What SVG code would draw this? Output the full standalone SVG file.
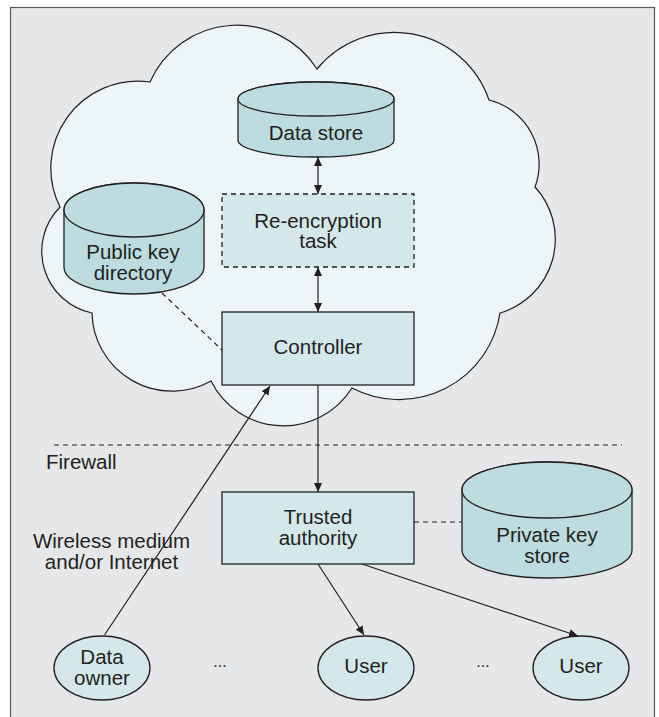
<svg xmlns="http://www.w3.org/2000/svg" width="659" height="717" viewBox="0 0 659 717">
  <style>
    .lbl { font-family: "Liberation Sans", Arial, sans-serif; font-size: 20.5px; fill: #231f20; text-anchor: middle; }
    .free { font-family: "Liberation Sans", Arial, sans-serif; font-size: 20.5px; fill: #231f20; }
    .cyl { fill: #bcdcdf; stroke: #231f20; stroke-width: 1.3; }
    .box { fill: #d4e7eb; stroke: #231f20; stroke-width: 1.3; }
    .dashbox { fill: #d4e7eb; stroke: #231f20; stroke-width: 1.3; stroke-dasharray: 5 4; }
    .edge { fill: none; stroke: #231f20; stroke-width: 1.2; }
    .dash { fill: none; stroke: #231f20; stroke-width: 1.2; stroke-dasharray: 5 4; }
  </style>
  <defs>
    <marker id="arrow" viewBox="0 0 10 10" refX="10" refY="5" markerWidth="9" markerHeight="9" markerUnits="userSpaceOnUse" orient="auto-start-reverse">
      <path d="M0,0.5 L10,5 L0,9.5 Z" fill="#231f20"/>
    </marker>
  </defs>

  <!-- page frame -->
  <rect x="10.5" y="7.5" width="644" height="720" fill="#e6e7e9" stroke="#58595b" stroke-width="1.2"/>

  <!-- cloud -->
  <path id="cloud" d="M150,82 A95,95 0 0 1 317,69 A100,100 0 0 1 489,100 A66,66 0 0 1 535,187 A77,77 0 0 1 500,313 A102,102 0 0 1 352,388 A81,81 0 0 1 211,381 A80,80 0 0 1 92,313 A63,63 0 0 1 60,207 A87,87 0 0 1 150,82 Z" fill="#edf5f8" stroke="#231f20" stroke-width="1.2"/>

  <!-- firewall -->
  <line x1="54" y1="445" x2="622" y2="445" class="dash"/>
  <text class="free" x="46" y="469">Firewall</text>
  <text class="lbl" x="111.5" y="548">Wireless medium</text>
  <text class="lbl" x="111.5" y="569">and/or Internet</text>

  <!-- connectors -->
  <g id="connectors">
    <line x1="318" y1="157" x2="318" y2="194" class="edge" marker-start="url(#arrow)" marker-end="url(#arrow)"/>
    <line x1="318" y1="267" x2="318" y2="312" class="edge" marker-start="url(#arrow)" marker-end="url(#arrow)"/>
    <line x1="318" y1="385" x2="318" y2="492" class="edge" marker-end="url(#arrow)"/>
    <line x1="104.5" y1="635" x2="270" y2="386" class="edge" marker-end="url(#arrow)"/>
    <line x1="318" y1="564" x2="364" y2="635" class="edge" marker-end="url(#arrow)"/>
    <line x1="362" y1="564" x2="578" y2="636" class="edge" marker-end="url(#arrow)"/>
    <line x1="162" y1="293" x2="222" y2="350" class="dash"/>
    <line x1="414" y1="522" x2="462" y2="522" class="dash"/>
  </g>

  <!-- data store -->
  <g id="data-store">
    <path class="cyl" d="M238,99 L238,140 A78,17 0 0 0 394,140 L394,99 A78,17 0 0 0 238,99 Z"/>
    <ellipse class="cyl" cx="316" cy="99" rx="78" ry="17"/>
    <text class="lbl" x="316" y="140">Data store</text>
  </g>

  <!-- re-encryption task -->
  <g id="re-encryption-task">
    <rect class="dashbox" x="222" y="194" width="192" height="73"/>
    <text class="lbl" x="318" y="228">Re-encryption</text>
    <text class="lbl" x="318" y="248">task</text>
  </g>

  <!-- public key directory -->
  <g id="public-key-directory">
    <path class="cyl" d="M64,210 L64,267 A70,27 0 0 0 204,267 L204,210 A70,27 0 0 0 64,210 Z"/>
    <ellipse class="cyl" cx="134" cy="210" rx="70" ry="27"/>
    <text class="lbl" x="133" y="259">Public key</text>
    <text class="lbl" x="133" y="280">directory</text>
  </g>

  <!-- controller -->
  <g id="controller">
    <rect class="box" x="222" y="312" width="192" height="73"/>
    <text class="lbl" x="318" y="354">Controller</text>
  </g>

  <!-- trusted authority -->
  <g id="trusted-authority">
    <rect class="box" x="222" y="492" width="192" height="72"/>
    <text class="lbl" x="318" y="524">Trusted</text>
    <text class="lbl" x="318" y="545">authority</text>
  </g>

  <!-- private key store -->
  <g id="private-key-store">
    <path class="cyl" d="M462,490 L462,550 A85,28 0 0 0 632,550 L632,490 A85,28 0 0 0 462,490 Z"/>
    <ellipse class="cyl" cx="547" cy="490" rx="85" ry="28"/>
    <text class="lbl" x="547" y="542">Private key</text>
    <text class="lbl" x="547" y="563">store</text>
  </g>

  <!-- end points -->
  <g id="data-owner">
    <ellipse class="box" cx="102" cy="668" rx="48" ry="32"/>
    <text class="lbl" x="102" y="664">Data</text>
    <text class="lbl" x="102" y="685">owner</text>
  </g>
  <g id="user-1">
    <ellipse class="box" cx="366" cy="668" rx="48" ry="32"/>
    <text class="lbl" x="366" y="673">User</text>
  </g>
  <g id="user-2">
    <ellipse class="box" cx="581" cy="668" rx="48" ry="32"/>
    <text class="lbl" x="581" y="673">User</text>
  </g>
  <text class="lbl" x="220" y="667" style="font-size:16px">...</text>
  <text class="lbl" x="483" y="667" style="font-size:16px">...</text>
</svg>
